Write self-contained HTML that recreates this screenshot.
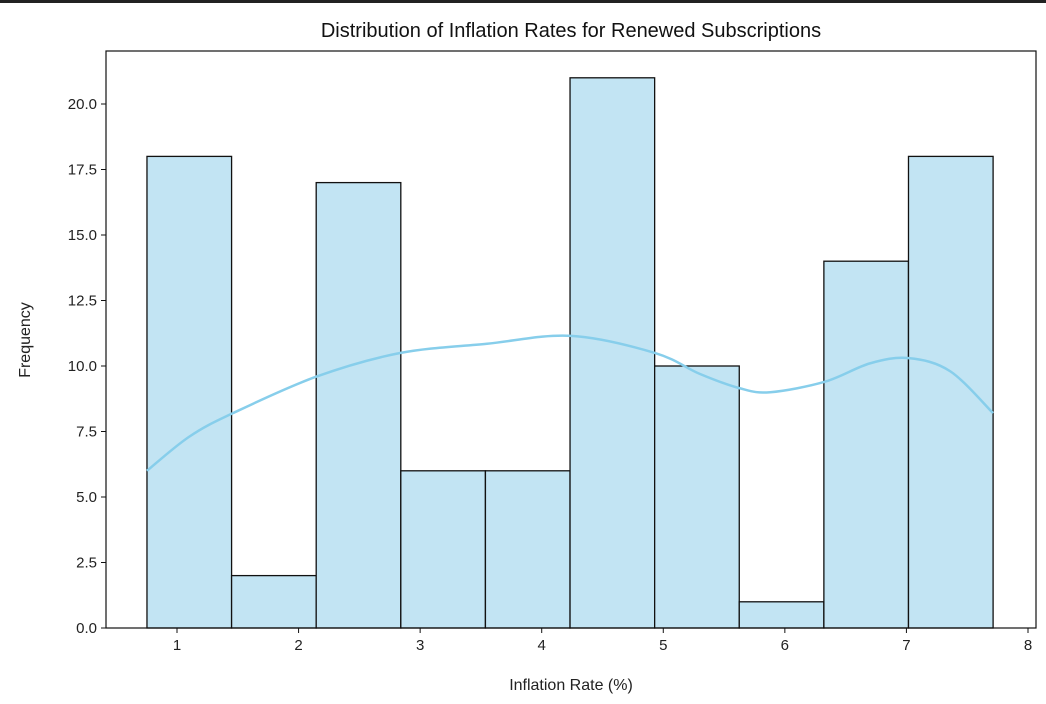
<!DOCTYPE html>
<html><head><meta charset="utf-8"><style>
body{margin:0;background:#fff;font-family:"Liberation Sans","DejaVu Sans",sans-serif;}
</style></head><body>
<div style="position:absolute;left:0;top:0;width:1046px;height:3px;background:#222"></div>
<svg id="chart" width="1046" height="704" style="position:absolute;left:0;top:0"></svg>
<script>
const binEdges=[0.753,1.449,2.145,2.841,3.537,4.233,4.929,5.625,6.321,7.017,7.713];
const counts=[18,2,17,6,6,21,10,1,14,18];
const kdeX=[0.753,1.1,1.46,2.15,2.84,3.55,4.24,4.93,5.3,5.63,5.88,6.33,6.7,7.02,7.36,7.713];
const kdeY=[6.0,7.3,8.2,9.6,10.5,10.85,11.15,10.5,9.7,9.15,9.0,9.4,10.1,10.3,9.8,8.2];
const xTicks=[1,2,3,4,5,6,7,8];
const yTicks=[0,2.5,5,7.5,10,12.5,15,17.5,20];
const L=106,R=1036,T=51,B=628;
const xs=v=>177+(v-1)*121.57;
const ys=v=>628-v*26.2;
const svg=document.getElementById('chart');
const NS='http://www.w3.org/2000/svg';
function mk(t,a){const e=document.createElementNS(NS,t);for(const k in a)e.setAttribute(k,a[k]);svg.appendChild(e);return e;}
counts.forEach((c,i)=>{
 const r=mk('rect',{x:xs(binEdges[i]),y:ys(c),width:xs(binEdges[i+1])-xs(binEdges[i]),height:ys(0)-ys(c),fill:'#c2e4f3',stroke:'#111','stroke-width':1.3});
 
 
});
let d='';
for(let i=0;i<kdeX.length-1;i++){
 const p0=kdeX[Math.max(i-1,0)],p1=kdeX[i],p2=kdeX[i+1],p3=kdeX[Math.min(i+2,kdeX.length-1)];
 const q0=kdeY[Math.max(i-1,0)],q1=kdeY[i],q2=kdeY[i+1],q3=kdeY[Math.min(i+2,kdeY.length-1)];
 if(i==0)d+='M'+xs(p1)+','+ys(q1);
 const c1x=xs(p1)+(xs(p2)-xs(p0))/6,c1y=ys(q1)+(ys(q2)-ys(q0))/6;
 const c2x=xs(p2)-(xs(p3)-xs(p1))/6,c2y=ys(q2)-(ys(q3)-ys(q1))/6;
 d+=' C'+c1x+','+c1y+' '+c2x+','+c2y+' '+xs(p2)+','+ys(q2);
}
const kl=mk('path',{d:d,fill:'none',stroke:'#87ceeb','stroke-width':2.5});


const fr=mk('rect',{x:L,y:T,width:R-L,height:B-T,fill:'none',stroke:'#111','stroke-width':1.2});


xTicks.forEach(v=>{
 mk('line',{x1:xs(v),x2:xs(v),y1:B,y2:B+5,stroke:'#111'});
 const t=mk('text',{x:xs(v),y:B+22,'text-anchor':'middle','font-size':15,fill:'#222'});t.textContent=v;
 
 
});
yTicks.forEach(v=>{
 mk('line',{x1:L-5,x2:L,y1:ys(v),y2:ys(v),stroke:'#111'});
 const t=mk('text',{x:L-9,y:ys(v)+5,'text-anchor':'end','font-size':15,fill:'#222'});t.textContent=v.toFixed(1);
 
 
});
const ti=mk('text',{x:571,y:37,'text-anchor':'middle','font-size':20,fill:'#111'});ti.textContent='Distribution of Inflation Rates for Renewed Subscriptions';


const xl=mk('text',{x:571,y:690,'text-anchor':'middle','font-size':16,fill:'#222'});xl.textContent='Inflation Rate (%)';


const yl=mk('text',{x:0,y:0,'text-anchor':'middle','font-size':16,fill:'#222',transform:'translate(30,340) rotate(-90)'});yl.textContent='Frequency';


</script>
</body></html>
